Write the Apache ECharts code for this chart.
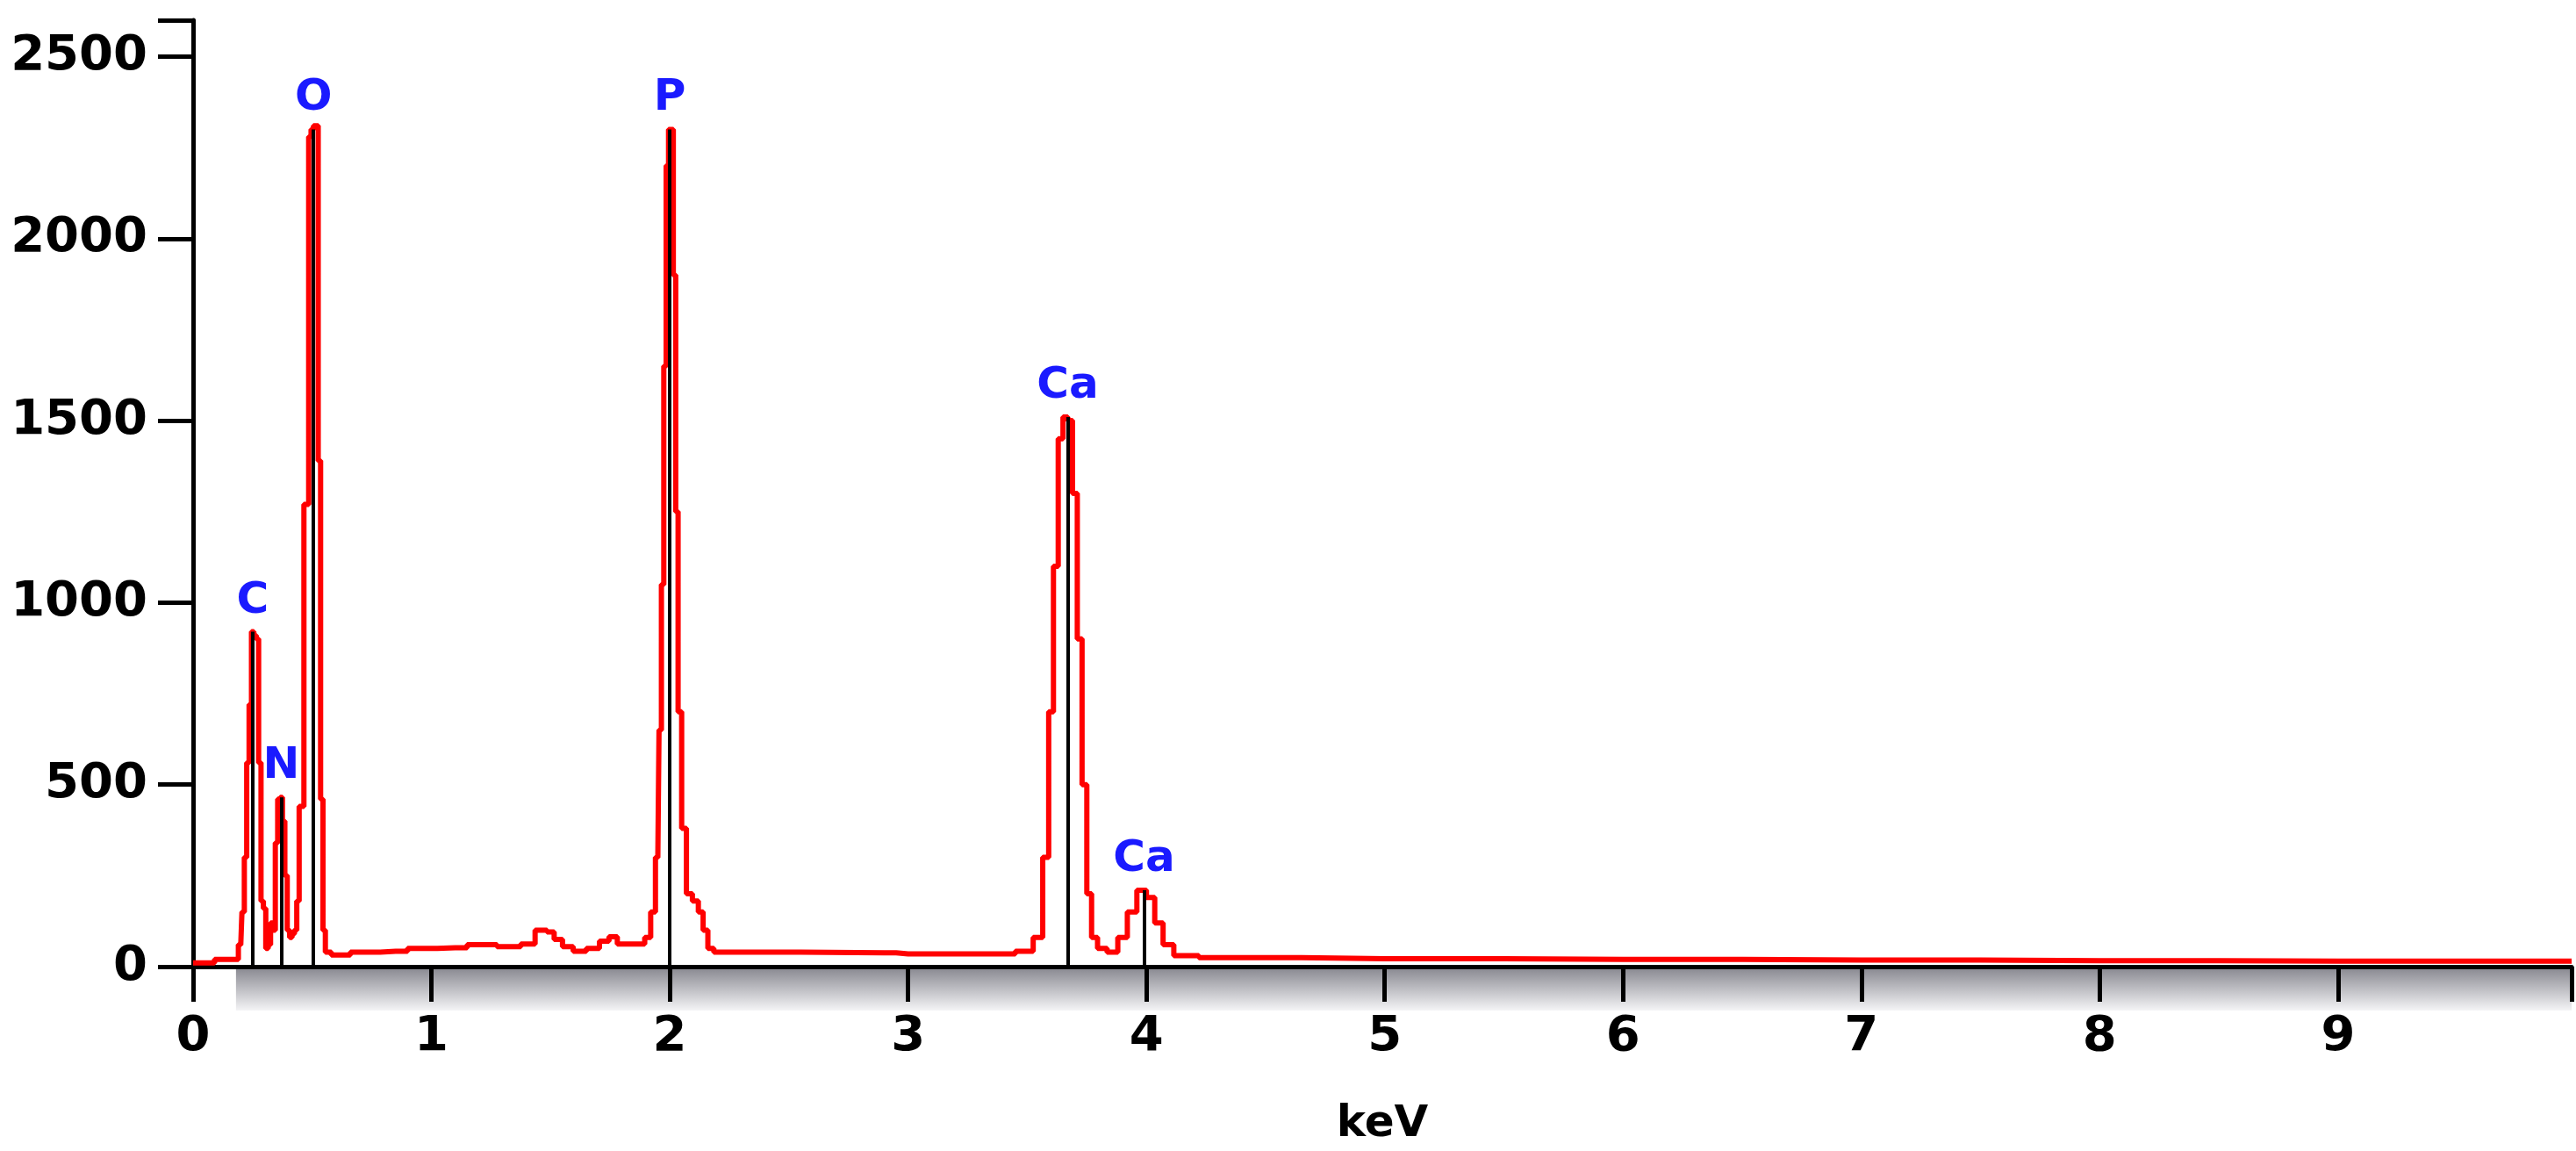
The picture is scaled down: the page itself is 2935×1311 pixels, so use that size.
<!DOCTYPE html>
<html><head><meta charset="utf-8">
<script src="https://cdn.jsdelivr.net/npm/echarts@6/dist/echarts.min.js"></script>
<style>html,body{margin:0;background:#fff}#c{width:2935px;height:1311px}</style>
</head><body><div id="c"></div>
<script>
// EDS spectrum, [keV, counts]
const spectrum = [
  [0, 10], [0.18, 20], [0.2, 60], [0.21, 150], [0.22, 300], [0.23, 560], [0.24, 720], [0.25, 920],
  [0.26, 910], [0.27, 900], [0.28, 560], [0.29, 180], [0.3, 160], [0.31, 50], [0.32, 60], [0.33, 120],
  [0.34, 100], [0.35, 340], [0.36, 460], [0.37, 465], [0.38, 400], [0.39, 250], [0.4, 100], [0.41, 80],
  [0.42, 90], [0.43, 100], [0.44, 180], [0.45, 440], [0.46, 440], [0.47, 1270], [0.48, 1270],
  [0.49, 2280], [0.5, 2300], [0.51, 2310], [0.52, 2310], [0.53, 1390], [0.54, 460], [0.55, 100],
  [0.56, 40], [0.6, 32], [0.72, 40], [0.85, 42], [0.95, 50], [1.1, 52], [1.2, 60], [1.35, 55],
  [1.4, 62], [1.47, 100], [1.5, 95], [1.53, 75], [1.57, 55], [1.62, 42], [1.68, 50], [1.73, 70],
  [1.76, 82], [1.8, 62], [1.88, 62], [1.91, 80], [1.93, 150], [1.95, 300], [1.96, 650], [1.97, 1050],
  [1.98, 1650], [1.99, 2200], [2.0, 2300], [2.01, 2300], [2.02, 1900], [2.03, 1250], [2.04, 700],
  [2.06, 380], [2.08, 200], [2.11, 180], [2.13, 150], [2.15, 100], [2.17, 50], [2.2, 40], [2.9, 38],
  [3.0, 35], [3.4, 35], [3.5, 42], [3.55, 80], [3.58, 300], [3.6, 700], [3.62, 1100], [3.64, 1450],
  [3.66, 1510], [3.68, 1500], [3.7, 1300], [3.72, 900], [3.74, 500], [3.76, 200], [3.78, 80],
  [3.81, 50], [3.86, 40], [3.9, 80], [3.94, 150], [3.98, 210], [4.02, 190], [4.05, 120], [4.09, 60],
  [4.14, 30], [4.3, 25], [5.0, 22], [6.0, 20], [7.0, 18], [8.0, 16], [9.0, 15], [9.98, 15]
];
const elements = ['C', 'N', 'O', 'P', 'Ca', 'Ca'];
const elementKeV = [0.25, 0.37, 0.505, 2.0, 3.67, 3.99];
const elementHeight = [920, 465, 2300, 2300, 1510, 210];
const xTicks = [0, 1, 2, 3, 4, 5, 6, 7, 8, 9];

const font = 'DejaVu Sans';
const chart = echarts.init(document.getElementById('c'));
chart.setOption({
  animation: false,
  grid: { left: 220, right: 5, top: 23, bottom: 196 },
  xAxis: {
    type: 'value', min: 0, max: 9.98, interval: 1,
    name: 'keV', nameLocation: 'middle', nameGap: 155,
    nameTextStyle: { fontFamily: font, fontWeight: 'bold', fontSize: 50, color: '#000' },
    axisLine: { onZero: false, lineStyle: { color: '#000', width: 5 } },
    axisTick: { length: 40, lineStyle: { color: '#000', width: 5 } },
    axisLabel: { margin: 52, fontFamily: font, fontWeight: 'bold', fontSize: 56, color: '#000',
      formatter: v => xTicks.includes(v) ? String(v) : '' },
    splitLine: { show: false }
  },
  yAxis: {
    type: 'value', min: 0, max: 2600, interval: 500,
    axisLine: { show: true, lineStyle: { color: '#000', width: 5 } },
    axisTick: { show: true, length: 40, lineStyle: { color: '#000', width: 5 } },
    axisLabel: { margin: 52, fontFamily: font, fontWeight: 'bold', fontSize: 56, color: '#000',
      formatter: v => v % 500 === 0 ? String(v) : '' },
    splitLine: { show: false }
  },
  series: [{
    type: 'line', step: 'middle', symbol: 'none', z: 3,
    lineStyle: { color: '#ff0000', width: 6 },
    data: spectrum,
    markLine: {
      silent: true, symbol: 'none',
      lineStyle: { color: '#000', width: 4, type: 'solid' },
      label: { position: 'end', distance: 10, fontFamily: font, fontWeight: 'bold', fontSize: 50, color: '#1a1aff' },
      data: elements.map((e, i) => [
        { coord: [elementKeV[i], 0] },
        { coord: [elementKeV[i], elementHeight[i]], name: e, label: { formatter: e } }
      ])
    }
  }]
});

// grey shaded band under the axis
const p0 = chart.convertToPixel({ gridIndex: 0 }, [0.18, 0]);
const p1 = chart.convertToPixel({ gridIndex: 0 }, [9.98, 0]);
chart.setOption({
  graphic: [{
    type: 'rect', z: 0, silent: true,
    shape: { x: p0[0], y: p0[1] + 2, width: p1[0] - p0[0], height: 48 },
    style: { fill: new echarts.graphic.LinearGradient(0, 0, 0, 1, [
      { offset: 0, color: '#8a8a92' }, { offset: 1, color: '#f4f4f6' }]) }
  }]
});
</script></body></html>
